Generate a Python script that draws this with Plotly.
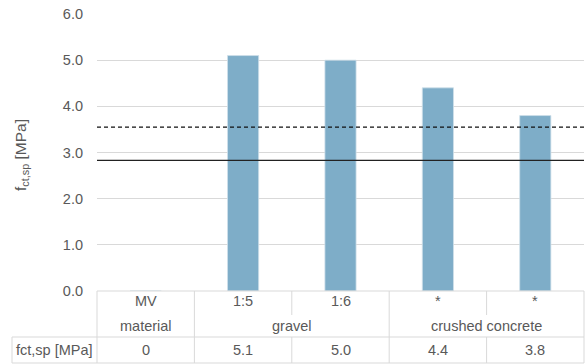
import plotly.graph_objects as go

# ---- data ----
categories = ["MV", "1:5", "1:6", "*", "*"]
values = [0, 5.1, 5.0, 4.4, 3.8]
value_labels = ["0", "5.1", "5.0", "4.4", "3.8"]
groups = ["material", "gravel", "crushed concrete"]
group_spans = [(0, 0), (1, 2), (3, 4)]
row_label = "fct,sp [MPa]"
ref_dashed = 3.55
ref_solid = 2.83
y_ticks = [0, 1, 2, 3, 4, 5, 6]

W, H = 585, 364
L, R, T, B = 97, 1, 14, 73
plot_h = H - T - B
plot_w = W - L - R

def py(pix):  # pixel y -> paper y
    return (H - B - pix) / plot_h

def px(pix):  # pixel x -> paper x
    return (pix - L) / plot_w

FONT = "Liberation Sans"
TXT = "#595959"
GRID = "#d9d9d9"

xs = list(range(len(categories)))
fig = go.Figure()
fig.add_trace(go.Bar(x=xs, y=values, marker=dict(color="#7eadc8", line=dict(color="#cfe0ea", width=0.8)),
                     width=0.32, hoverinfo="skip"))

shapes = []
# reference lines
shapes.append(dict(type="line", xref="paper", yref="y", x0=0, x1=1, y0=ref_dashed, y1=ref_dashed,
                   line=dict(color="#111111", width=1.4, dash="4px,3px")))
shapes.append(dict(type="line", xref="paper", yref="y", x0=0, x1=1, y0=ref_solid, y1=ref_solid,
                   line=dict(color="#222222", width=1.4)))

# table lines
row1_bot = py(315)
row2_bot = py(337)
tab_bot = py(363)
lc = dict(color=GRID, width=1)
shapes.append(dict(type="line", xref="paper", yref="paper", x0=0, x1=1, y0=0, y1=0, line=lc))
shapes.append(dict(type="line", xref="paper", yref="paper", x0=px(12), x1=1, y0=row2_bot, y1=row2_bot, line=lc))
shapes.append(dict(type="line", xref="paper", yref="paper", x0=px(12), x1=1, y0=tab_bot, y1=tab_bot, line=lc))
shapes.append(dict(type="line", xref="paper", yref="paper", x0=px(12), x1=px(12), y0=row2_bot, y1=tab_bot, line=lc))
shapes.append(dict(type="line", xref="paper", yref="paper", x0=0, x1=0, y0=0, y1=tab_bot, line=lc))
shapes.append(dict(type="line", xref="paper", yref="paper", x0=1, x1=1, y0=0, y1=tab_bot, line=lc))
# inner column boundaries
group_starts = [s for s, e in group_spans]
for i in range(1, len(categories)):
    xb = i - 0.5
    if i in group_starts:
        shapes.append(dict(type="line", xref="x", yref="paper", x0=xb, x1=xb, y0=0, y1=tab_bot, line=lc))
    else:
        shapes.append(dict(type="line", xref="x", yref="paper", x0=xb, x1=xb, y0=0, y1=row1_bot, line=lc))
        shapes.append(dict(type="line", xref="x", yref="paper", x0=xb, x1=xb, y0=row2_bot, y1=tab_bot, line=lc))

annots = []
tf = dict(family=FONT, size=14.5, color=TXT)
for i, c in enumerate(categories):
    annots.append(dict(x=i, y=py(301), xref="x", yref="paper", text=c, showarrow=False, font=tf,
                       xanchor="center", yanchor="middle"))
for g, (s, e) in zip(groups, group_spans):
    annots.append(dict(x=(s + e) / 2, y=py(326), xref="x", yref="paper", text=g, showarrow=False, font=tf,
                       xanchor="center", yanchor="middle"))
for i, v in enumerate(value_labels):
    annots.append(dict(x=i, y=py(350), xref="x", yref="paper", text=v, showarrow=False, font=tf,
                       xanchor="center", yanchor="middle"))
annots.append(dict(x=px(54), y=py(350), xref="paper", yref="paper", text=row_label, showarrow=False, font=tf,
                   xanchor="center", yanchor="middle"))
# y title
annots.append(dict(x=px(21), y=py(155), xref="paper", yref="paper",
                   text="f<sub>ct,sp</sub> [MPa]", showarrow=False, textangle=-90,
                   font=dict(family=FONT, size=15.5, color=TXT), xanchor="center", yanchor="middle"))

fig.update_layout(
    width=W, height=H, margin=dict(l=L, r=R, t=T, b=B),
    paper_bgcolor="white", plot_bgcolor="white", showlegend=False,
    shapes=shapes, annotations=annots,
    xaxis=dict(range=[-0.5, len(categories) - 0.5], showticklabels=False, showgrid=False,
               zeroline=False, showline=False, ticks=""),
    yaxis=dict(range=[0, 6], tickvals=y_ticks, tickformat=".1f", showgrid=True, gridcolor=GRID,
               gridwidth=1, zeroline=False, showline=False, ticks="", ticklabelstandoff=13,
               tickfont=dict(family=FONT, size=14.5, color=TXT)),
)

fig.write_html("out.html", config={"displayModeBar": False},
               post_script="document.body.style.margin='0';document.body.style.overflow='hidden';")
